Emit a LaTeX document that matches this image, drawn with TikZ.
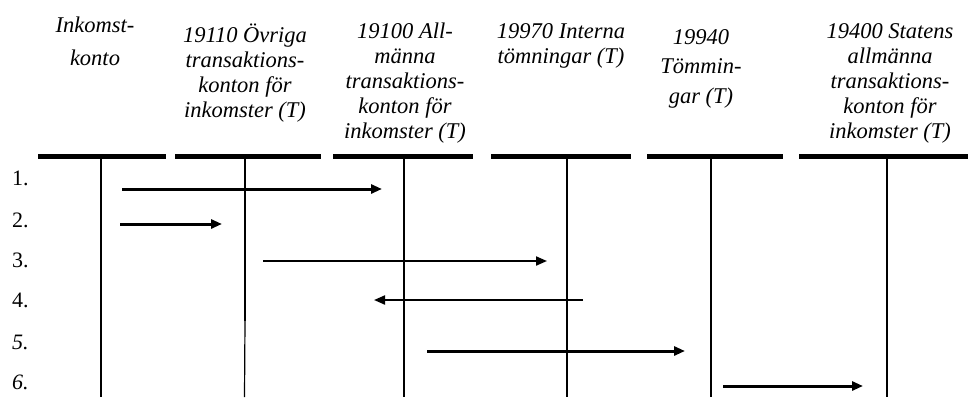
\documentclass[tikz,border=0pt]{standalone}
\usepackage{fontspec}
\setmainfont{Liberation Serif}[ItalicFont={Liberation Serif Italic},BoldFont={Liberation Serif Bold}]
\usetikzlibrary{arrows.meta}
\begin{document}
\begin{tikzpicture}[x=1pt,y=-1pt,
  hdr/.style={anchor=base,inner sep=0pt,font=\itshape},
  bar/.style={line width=5pt},
  stem/.style={line width=2.2pt},
  thickarr/.style={line width=3pt,-{Triangle[length=11pt,width=9pt]}},
  thinarr/.style={line width=2pt,-{Triangle[length=11pt,width=9pt]}},
  rowlbl/.style={anchor=base west,inner sep=0pt,font=\fontsize{22}{25}\selectfont}]
\useasboundingbox[fill=white] (0,0) rectangle (968,397);
\setlength{\tabcolsep}{0pt}
% headers
\node[hdr] (h1) at (95,32) {\fontsize{22.5}{33}\selectfont\itshape\begin{tabular}[t]{c}Inkomst-\\konto\end{tabular}};
\node[hdr] (h2) at (245,42) {\fontsize{22.5}{25}\selectfont\itshape\begin{tabular}[t]{c}19110 Övriga\\transaktions-\\konton för\\inkomster (T)\end{tabular}};
\node[hdr] (h3) at (405,38) {\fontsize{22.5}{25}\selectfont\itshape\begin{tabular}[t]{c}19100 All-\\männa\\transaktions-\\konton för\\inkomster (T)\end{tabular}};
\node[hdr] (h4) at (561,38) {\fontsize{22.5}{25}\selectfont\itshape\begin{tabular}[t]{c}19970 Interna\\tömningar (T)\end{tabular}};
\node[hdr] (h5) at (701,44) {\fontsize{22.5}{29.5}\selectfont\itshape\begin{tabular}[t]{c}19940\\Tömmin-\\gar (T)\end{tabular}};
\node[hdr] (h6) at (890,38) {\fontsize{22.5}{25}\selectfont\itshape\begin{tabular}[t]{c}19400 Statens\\allmänna\\transaktions-\\konton för\\inkomster (T)\end{tabular}};
% bars
\draw[bar] (38,156) -- (166,156);
\draw[bar] (175,156) -- (321,156);
\draw[bar] (333,156) -- (473,156);
\draw[bar] (491,156) -- (631,156);
\draw[bar] (647,156) -- (783,156);
\draw[bar] (799,156) -- (968,156);
% stems
\coordinate (t1) at (101,157); \coordinate (b1) at (101,397);
\coordinate (t2) at (245,157); \coordinate (m2) at (245,321); \coordinate (b2) at (244.5,397);
\coordinate (t3) at (404,157); \coordinate (b3) at (404,397);
\coordinate (t4) at (567,157); \coordinate (b4) at (567,397);
\coordinate (t5) at (711,157); \coordinate (b5) at (711,397);
\coordinate (t6) at (887,157); \coordinate (b6) at (887,397);
\draw[stem] (t1) -- (b1);
\draw[stem] (t2) -- (m2);
\draw[line width=1.2pt] (m2) -- (b2);
\draw[stem] (t3) -- (b3);
\draw[stem] (t4) -- (b4);
\draw[stem] (t5) -- (b5);
\draw[stem] (t6) -- (b6);
% row labels
\node[rowlbl] (r1) at (12,185) {1.};
\node[rowlbl] (r2) at (12,227) {2.};
\node[rowlbl] (r3) at (12,267) {3.};
\node[rowlbl] (r4) at (12,307) {4.};
\node[rowlbl,font=\fontsize{22}{25}\selectfont\itshape] (r5) at (12,349) {5.};
\node[rowlbl,font=\fontsize{22}{25}\selectfont\itshape] (r6) at (12,389) {6.};
% arrows
\coordinate (a1s) at (122,189); \coordinate (a1e) at (382,189);
\coordinate (a2s) at (120,224); \coordinate (a2e) at (222,224);
\coordinate (a3s) at (263,261); \coordinate (a3e) at (547,261);
\coordinate (a4s) at (583,300); \coordinate (a4e) at (374,300);
\coordinate (a5s) at (427,351); \coordinate (a5e) at (685,351);
\coordinate (a6s) at (723,386); \coordinate (a6e) at (863,386);
\draw[thickarr] (a1s) -- (a1e);
\draw[thickarr] (a2s) -- (a2e);
\draw[thinarr] (a3s) -- (a3e);
\draw[thinarr] (a4s) -- (a4e);
\draw[thickarr] (a5s) -- (a5e);
\draw[thickarr] (a6s) -- (a6e);
\end{tikzpicture}
\end{document}
